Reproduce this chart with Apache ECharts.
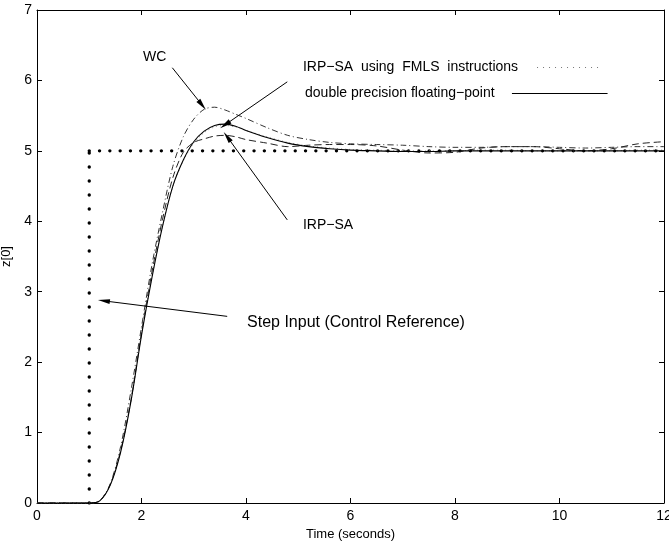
<!DOCTYPE html>
<html>
<head>
<meta charset="utf-8">
<script src="https://cdn.jsdelivr.net/npm/echarts@6/dist/echarts.min.js"></script>
<style>
  html, body { margin: 0; padding: 0; background: #fff; }
  #chart { width: 669px; height: 543px; }
</style>
</head>
<body>
<div id="chart"></div>
<script>
// time axis (seconds) shared by all response curves
const timeSec = [0, 1.0, 1.2, 1.4, 1.6, 1.8, 2.0, 2.2, 2.4, 2.6, 2.8, 3.0, 3.2, 3.4, 3.6, 3.8, 4.0, 4.4, 4.8,
  5.2, 5.6, 6.0, 6.5, 7.0, 7.5, 8.0, 8.5, 9.0, 9.5, 10.0, 10.5, 11.0, 11.5, 12.0]

// z[0] responses
const doublePrec = [0, 0, 0.03, 0.25, 0.72, 1.45, 2.38, 3.2, 3.92, 4.5, 4.87, 5.13, 5.28, 5.36, 5.38, 5.35, 5.29,
  5.19, 5.11, 5.06, 5.03, 5.01, 5.0, 4.99, 4.99, 5.0, 5.0, 5.0, 5.0, 5.0, 5.0, 5.0, 5.0, 5.0]
const fmlsCurve = [0, 0, 0.03, 0.26, 0.73, 1.47, 2.4, 3.22, 3.93, 4.5, 4.86, 5.11, 5.26, 5.34, 5.36, 5.34, 5.29,
  5.2, 5.12, 5.07, 5.04, 5.02, 5.01, 5.0, 5.0, 5.0, 5.01, 5.01, 5.0, 5.0, 5.0, 5.0, 5.01, 5.01]
const irpSa = [0, 0, 0.03, 0.26, 0.74, 1.47, 2.42, 3.28, 4.02, 4.62, 4.98, 5.12, 5.17, 5.21, 5.22, 5.2, 5.16,
  5.11, 5.06, 5.08, 5.09, 5.09, 5.07, 5.01, 4.97, 4.98, 5.04, 5.06, 5.06, 5.03, 5.0, 5.03, 5.1, 5.13]
const wcCurve = [0, 0, 0.03, 0.27, 0.8, 1.6, 2.5, 3.38, 4.12, 4.78, 5.2, 5.45, 5.59, 5.62, 5.58, 5.52, 5.46,
  5.33, 5.22, 5.16, 5.12, 5.1, 5.09, 5.08, 5.06, 5.05, 5.05, 5.06, 5.06, 5.05, 5.04, 5.05, 5.06, 5.06]

// step input (control reference)
const stepTime = [1, 1, 12]
const stepValue = [0, 5, 5]

const xTicks = [0, 2, 4, 6, 8, 10, 12]
const yTicks = [0, 1, 2, 3, 4, 5, 6, 7]

// annotations: [x1, y1, x2(tip), y2(tip)]
const arrows = [
  [2.59, 6.18, 3.16, 5.65],
  [4.79, 5.98, 3.6, 5.37],
  [4.79, 4.02, 3.64, 5.2],
  [3.64, 2.65, 1.28, 2.87]
]
const labels = [
  { text: 'WC', at: [2.03, 6.33], size: 14 },
  { text: 'IRP\u2212SA  using  FMLS  instructions', at: [5.09, 6.19], size: 14 },
  { text: 'double precision floating\u2212point', at: [5.13, 5.82], size: 14 },
  { text: 'IRP\u2212SA', at: [5.09, 3.95], size: 14 },
  { text: 'Step Input (Control Reference)', at: [4.02, 2.56], size: 16 }
]
const fmlsKey = [[9.57, 6.19], [10.83, 6.19]]
const solidKey = [[9.09, 5.82], [10.92, 5.82]]

const FONT = '"Liberation Sans", Arial, Helvetica, sans-serif'

function pairs(xs, ys) {
  return xs.map((x, i) => [x, ys[i]])
}

const chart = echarts.init(document.getElementById('chart'), null, { renderer: 'canvas' })

const axisCommon = {
  type: 'value',
  axisLine: { show: true, onZero: false, lineStyle: { color: '#000', width: 1 } },
  axisTick: { show: true, inside: true, length: 5, lineStyle: { color: '#000' } },
  splitLine: { show: false }
}

const curve = (name, ys, color, type, width) => ({
  name,
  type: 'line',
  data: pairs(timeSec, ys),
  showSymbol: false,
  smooth: 0.3,
  lineStyle: { color, type, width },
  z: 3
})

const option = {
  animation: false,
  textStyle: { fontFamily: FONT },
  grid: { left: 37, right: 5, top: 10, bottom: 40, containLabel: false, outerBoundsMode: 'none' },
  xAxis: [
    {
      ...axisCommon,
      min: 0, max: 12, interval: 2,
      position: 'bottom',
      name: 'Time (seconds)',
      nameLocation: 'middle',
      nameGap: 19,
      nameTextStyle: { color: '#000', fontSize: 13, fontFamily: FONT },
      axisLabel: { color: '#000', fontSize: 14, margin: 6, fontFamily: FONT,
        customValues: xTicks }
    },
    {
      ...axisCommon,
      min: 0, max: 12, interval: 2,
      position: 'top',
      axisLabel: { show: false }
    }
  ],
  yAxis: [
    {
      ...axisCommon,
      min: 0, max: 7, interval: 1,
      position: 'left',
      name: 'z[0]',
      nameLocation: 'middle',
      nameGap: 22,
      nameRotate: 90,
      nameTextStyle: { color: '#000', fontSize: 13, fontFamily: FONT },
      axisLabel: { color: '#000', fontSize: 14, margin: 5, fontFamily: FONT,
        customValues: yTicks }
    },
    {
      ...axisCommon,
      min: 0, max: 7, interval: 1,
      position: 'right',
      axisLabel: { show: false }
    }
  ],
  series: [
    {
      name: 'step-v',
      type: 'line',
      data: pairs(stepTime.slice(0, 2), stepValue.slice(0, 2)),
      showSymbol: false,
      lineStyle: { color: '#000', width: 3.4, type: [0, 14], cap: 'round' },
      z: 2
    },
    {
      name: 'step-h',
      type: 'line',
      data: pairs(stepTime.slice(1), stepValue.slice(1)),
      showSymbol: false,
      lineStyle: { color: '#000', width: 3.4, type: [0, 10.3], cap: 'round' },
      z: 2
    },
    curve('WC', wcCurve, '#333', [6, 3, 1, 3], 1),
    curve('IRP-SA', irpSa, '#222', [7, 4], 1),
    curve('FMLS', fmlsCurve, '#888', [1, 3], 1),
    {
      ...curve('double', doublePrec, '#000', 'solid', 1.1),
      markLine: {
        silent: true,
        symbol: 'none',
        label: { show: false },
        lineStyle: { color: '#000', type: 'solid', width: 1 },
        data: [[{ coord: solidKey[0] }, { coord: solidKey[1] }]]
      }
    },
    {
      name: 'fmls-key',
      type: 'line',
      data: [],
      markLine: {
        silent: true,
        symbol: 'none',
        label: { show: false },
        lineStyle: { color: '#777', type: [1, 5], width: 1 },
        data: [[{ coord: fmlsKey[0] }, { coord: fmlsKey[1] }]]
      }
    },
    {
      name: 'notes',
      type: 'line',
      data: [],
      markLine: {
        silent: true,
        symbol: ['none', 'triangle'],
        symbolSize: [5, 12],
        label: { show: false },
        lineStyle: { color: '#000', type: 'solid', width: 1 },
        itemStyle: { color: '#000' },
        data: arrows.map(a => [{ coord: [a[0], a[1]] }, { coord: [a[2], a[3]] }])
      },
      markPoint: {
        silent: true,
        symbol: 'circle',
        symbolSize: 0,
        data: labels.map(l => ({
          coord: l.at,
          label: {
            show: true,
            position: 'right',
            distance: 0,
            formatter: l.text,
            color: '#000',
            fontSize: l.size,
            fontFamily: FONT
          }
        }))
      }
    }
  ]
}

chart.setOption(option)
</script>
</body>
</html>
